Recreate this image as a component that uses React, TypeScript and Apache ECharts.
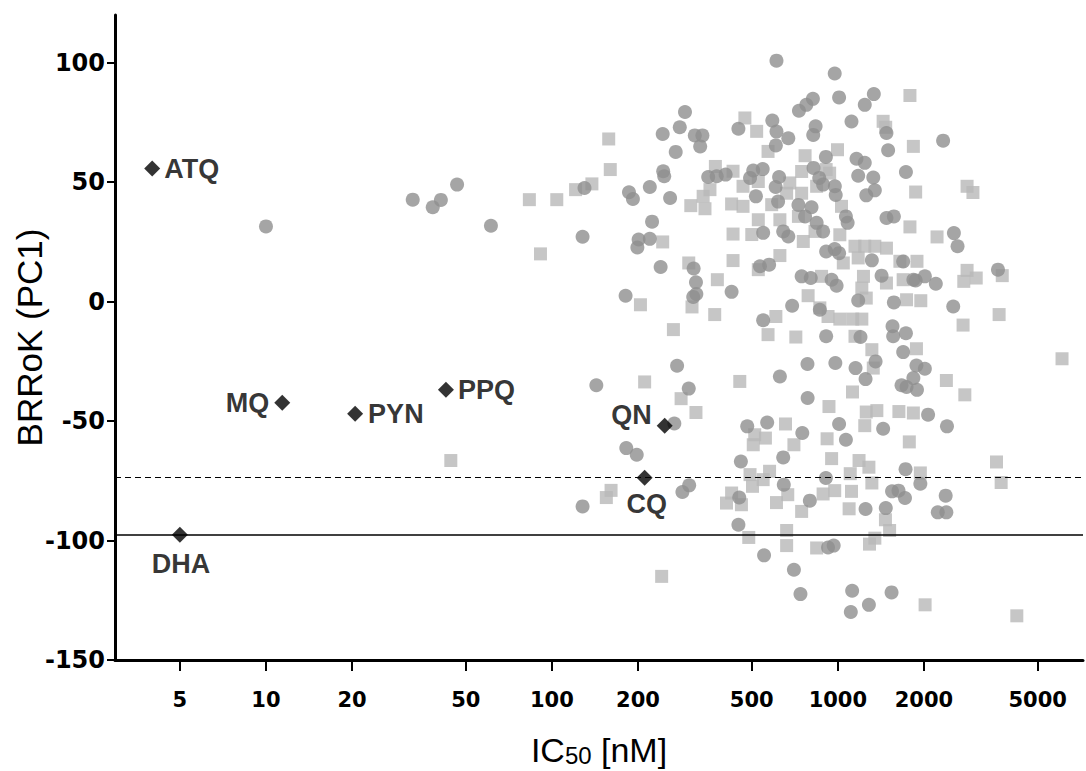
import React, { useEffect, useRef } from "react";
import * as echarts from "echarts";

// Tick labels
const xTicks = [5, 10, 20, 50, 100, 200, 500, 1000, 2000, 5000];
const yTicks = [-150, -100, -50, 0, 50, 100];

// Reference drugs (IC50 in nM, BRRoK PC1)
const drugNames = ["ATQ", "MQ", "PYN", "PPQ", "QN", "CQ", "DHA"];
const drugIC50 = [4.0, 11.4, 20.5, 42.6, 248, 211, 5.0];
const drugBRRoK = [55.7, -42.3, -46.9, -36.9, -51.9, -73.7, -97.6];

// Threshold lines (dashed at CQ level, solid at DHA level)
const dashedLineValue = -73.7;
const solidLineValue = -97.6;

// Dark-grey circles [IC50 nM, BRRoK]
const circlePoints: [number, number][] = [
  [10, 31.5], [32.6, 42.7], [38.3, 39.5], [40.9, 42.6], [46.6, 49], [61.2, 31.8],
  [292, 79.4], [280, 73], [244, 70.2], [316, 69.6], [336, 69.6], [330, 65], [271, 62.7], [449, 72.4],
  [245, 54.6], [247, 52.5], [352, 52.2], [377, 52.5], [405, 53.2], [130, 47.6], [186, 45.8], [192, 43],
  [220, 48], [259, 43.4], [224, 33.5], [201, 26], [199, 22.7], [220, 26.3], [128, 27.2], [240, 14.5],
  [313, 13.9], [319, 8.1], [320, 3.2], [312, 2], [181, 2.5], [425, 4.1],
  [274, -26.8], [143, -35], [301, -36.4], [268, -51], [182, -61.3], [198, -64.1], [458, -66.9],
  [128, -85.7], [302, -76.9], [286, -79.7], [452, -82], [449, -93.4],
  [610, 100.9], [975, 95.5], [818, 84.9], [776, 82.4], [731, 79.9], [1010, 85.5], [1336, 86.9], [1242, 82.4],
  [1116, 75.4], [590, 75.8], [610, 71.2], [607, 65.4], [671, 68.4], [836, 73.4], [820, 69.8], [1479, 70.6],
  [1499, 63.4], [908, 60.6], [1162, 59.8], [1242, 58.1], [1178, 52.7], [1330, 52], [1347, 46.6], [1257, 44.5],
  [1730, 54.3], [506, 54.9], [546, 55.5], [493, 51.8], [623, 52.2], [606, 48], [822, 56], [861, 51.8],
  [888, 49], [976, 48.3], [983, 44.7], [517, 44.1], [618, 41.9], [728, 40.5], [809, 39.5], [768, 35.7],
  [1067, 35.7], [1082, 33], [843, 33], [888, 29.4], [644, 29.4], [671, 27.3], [548, 28.8], [1479, 35],
  [1570, 35.7], [910, 21], [975, 22], [1010, 20.3], [534, 14.8], [575, 15.5], [1315, 17.3], [1692, 16.8],
  [747, 10.6], [804, 9.9], [951, 9.2], [990, 6.7], [1422, 10.9], [1837, 9.2], [692, -1.7], [865, -3.4],
  [1178, 0.5], [1570, -0.3], [548, -7.8], [910, -14.5], [1200, -14.8], [1553, -10.3], [1730, -13.2],
  [2334, 67.4], [2546, 28.7], [2622, 23.2], [2015, 10.6], [1871, 8.9], [2201, 7.5], [3631, 13.4], [2532, -2],
  [1561, -14.5], [1692, -21.1], [1355, -25], [1153, -27.8], [1250, -32.4], [980, -25.7], [783, -26.1], [627, -31.3],
  [1670, -35], [1739, -35.7], [1837, -32], [784, -40.3], [482, -52.2], [566, -50.6], [751, -55], [1010, -51.2],
  [1067, -57.8], [1440, -53.2], [644, -65.2], [908, -73.8], [647, -76.6], [798, -83.3], [1725, -70.1],
  [1547, -79.4], [1630, -79.1], [1717, -82.2], [1250, -86.8], [1471, -86.4], [924, -102.9], [967, -102.1],
  [552, -106.2], [702, -112.2], [740, -122.4], [1122, -121], [1284, -126.9], [1110, -129.9], [1541, -121.7],
  [1883, -26.7], [2015, -28.1], [1891, -36.9], [2068, -47.3], [2408, -52.2], [1943, -76.2], [2383, -81.2],
  [2236, -88.2], [2396, -88.2],
];

// Light-grey squares [IC50 nM, BRRoK]
const squarePoints: [number, number][] = [
  [83.4, 42.7], [104, 42.7], [91.2, 20], [44.3, -66.5],
  [158, 68.1], [160, 55.3], [138, 49.3], [121, 46.9], [306, 40.2], [343, 38.9], [338, 44.1], [357, 46.9],
  [373, 56.6], [430, 54.6], [425, 40.9], [430, 28.3], [430, 17.2], [244, 25], [301, 16.2], [379, 9.2],
  [204, -1.3], [309, -2.2], [371, -5.4], [266, -11.7],
  [211, -33.6], [283, -40.6], [319, -46.4], [454, -33.4], [161, -79], [155, -82], [425, -80.1], [408, -84.3],
  [242, -115],
  [473, 76.9], [520, 71.3], [570, 62.9], [768, 61.1], [997, 63.6], [1787, 86.3], [1440, 75.5], [1470, 73],
  [1837, 65], [466, 48.3], [527, 50.3], [466, 39.9], [527, 34.3], [500, 28.1], [679, 49.7], [662, 45.4],
  [747, 45.4], [747, 54.5], [910, 55.3], [936, 53.8], [843, 48.3], [587, 40.6], [627, 34.3], [728, 35.7],
  [1030, 39.9], [757, 25.2], [832, 29.4], [1016, 28], [1148, 23.2], [1242, 23.2], [1347, 23.2], [1479, 22.4],
  [1178, 18.3], [1045, 16.2], [1648, 16.9], [627, 19.3], [527, 13.4], [877, 10.6], [1229, 10.6], [1479, 7.8],
  [1213, 5.7], [1692, 9.2], [787, 2.5], [1257, 1.5], [1739, 0.8], [865, -2.6], [924, -6.2], [1016, -7.3],
  [1127, -7.3], [1213, -7.3], [607, -6.2], [570, -13.8], [713, -14.8], [1148, -14.5],
  [1871, 45.9], [2831, 48.3], [2968, 45.7], [1787, 31.3], [2223, 27.1], [1891, 16.9], [2831, 13.1], [2757, 8.5],
  [3047, 9.9], [3758, 10.9], [1950, 0.4], [3664, -5.4], [2741, -9.8],
  [1315, -20.1], [1330, -27.8], [1125, -37.8], [931, -43.9], [1257, -46.2], [1369, -45.6], [1635, -46],
  [1837, -46.6], [1242, -51.9], [656, -51.2], [512, -55.7], [558, -57.1], [506, -59.9], [702, -59.9],
  [917, -57.4], [1778, -58.7], [951, -65.7], [1186, -66.5], [1284, -69.3], [1105, -72], [1315, -75.9],
  [577, -71], [548, -74.5], [493, -72.4], [503, -77.3], [668, -80.8], [610, -84.1], [888, -80.5], [975, -79.1],
  [1116, -79.4], [747, -87.8], [1095, -86.7], [460, -85], [1467, -91.3], [1517, -95.8], [662, -95.8],
  [488, -98.7], [662, -102.1], [843, -103.1], [1347, -99], [1290, -101.5],
  [1883, -19.7], [6081, -23.9], [2396, -33], [2780, -39], [3587, -67.1], [3725, -75.7], [1943, -71.7],
  [2019, -126.9], [4225, -131.5],
];

const SANS = "Liberation Sans, Arial, sans-serif";
const WIDE = "DejaVu Sans, Verdana, sans-serif";

const labelPlacement: Record<string, any> = {
  ATQ: { position: "right", distance: 4 },
  MQ: { position: "left", distance: 5 },
  PYN: { position: "right", distance: 5 },
  PPQ: { position: "right", distance: 4 },
  QN: { position: "left", distance: 5, offset: [0, -11] },
  CQ: { position: "bottom", distance: 5, offset: [2, 0] },
  DHA: { position: "bottom", distance: 8, offset: [1, 0] },
};

export default function App() {
  const ref = useRef<HTMLDivElement>(null);
  useEffect(() => {
    document.body.style.margin = "0";
    const chart = echarts.init(ref.current!, null, { renderer: "svg" });
    const drugData = drugNames.map((n, i) => ({
      name: n,
      value: [drugIC50[i], drugBRRoK[i]],
      label: {
        show: true,
        formatter: n,
        color: "#000",
        fontFamily: SANS,
        fontWeight: "bold",
        fontSize: 27,
        ...labelPlacement[n],
      },
    }));
    chart.setOption({
      animation: false,
      backgroundColor: "#ffffff",
      grid: { left: 115, right: 3, top: 15, bottom: 111, containLabel: false, outerBoundsMode: "none" },
      xAxis: {
        type: "log",
        logBase: 10,
        min: 2.965,
        max: 7200,
        axisLine: { show: true, onZero: false, lineStyle: { color: "#000", width: 3 } },
        axisTick: { show: true, length: 11, customValues: xTicks, lineStyle: { color: "#000", width: 2 } },
        minorTick: { show: false },
        splitLine: { show: false },
        axisLabel: {
          customValues: xTicks,
          formatter: (v: number) => String(Math.round(v)),
          fontFamily: WIDE,
          fontWeight: "bold",
          fontSize: 21,
          color: "#000",
          margin: 29,
        },
        name: "{a|IC}{b|50}{a| [nM]}",
        nameLocation: "middle",
        nameGap: 55,
        nameMoveOverlap: false,
        nameTextStyle: {
          color: "#000",
          fontFamily: SANS,
          rich: {
            a: { fontSize: 34, fontFamily: SANS, color: "#000", lineHeight: 52, verticalAlign: "bottom" },
            b: { fontSize: 24, fontFamily: SANS, color: "#000", lineHeight: 24, verticalAlign: "bottom" },
          },
        },
      },
      yAxis: {
        type: "value",
        min: -150,
        max: 120,
        axisLine: { show: true, onZero: false, lineStyle: { color: "#000", width: 3 } },
        axisTick: { show: true, length: 8, customValues: yTicks, lineStyle: { color: "#000", width: 2 } },
        splitLine: { show: false },
        axisLabel: {
          customValues: yTicks,
          fontFamily: WIDE,
          fontWeight: "bold",
          fontSize: 24,
          color: "#000",
          margin: 10,
        },
        name: "BRRoK (PC1)",
        nameLocation: "middle",
        nameGap: 68,
        nameMoveOverlap: false,
        nameTextStyle: { color: "#000", fontFamily: SANS, fontSize: 35 },
      },
      series: [
        {
          type: "scatter",
          name: "squares",
          symbol: "rect",
          symbolSize: 13,
          itemStyle: { color: "#b8b8b8" },
          data: squarePoints,
          z: 2,
        },
        {
          type: "scatter",
          name: "circles",
          symbol: "circle",
          symbolSize: 14,
          itemStyle: { color: "#8e8e8e" },
          data: circlePoints,
          z: 3,
        },
        {
          type: "scatter",
          name: "drugs",
          symbol: "diamond",
          symbolSize: 16,
          itemStyle: { color: "#000" },
          data: drugData,
          z: 5,
          markLine: {
            silent: true,
            symbol: ["none", "none"],
            label: { show: false },
            data: [
              { yAxis: dashedLineValue, lineStyle: { color: "#000", width: 1.2, type: [6, 4] } },
              { yAxis: solidLineValue, lineStyle: { color: "#000", width: 1.5, type: "solid" } },
            ],
          },
        },
      ],
    });
    return () => chart.dispose();
  }, []);
  return <div ref={ref} style={{ width: 1086, height: 771 }} />;
}
